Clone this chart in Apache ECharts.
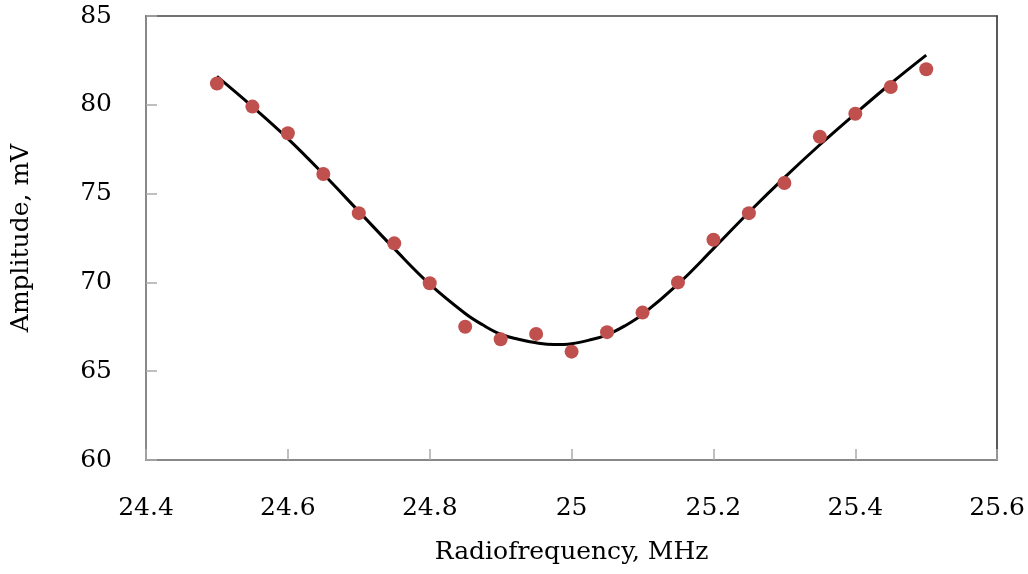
<!DOCTYPE html>
<html>
<head>
<meta charset="utf-8">
<script src="https://cdn.jsdelivr.net/npm/echarts@6/dist/echarts.min.js"></script>
<style>
  html, body { margin: 0; padding: 0; background: #ffffff; }
  #chart { width: 1028px; height: 574px; }
</style>
</head>
<body>
<div id="chart"></div>
<script>
// Measured amplitude at each radiofrequency
const freqMHz = [24.5, 24.55, 24.6, 24.65, 24.7, 24.75, 24.8, 24.85, 24.9, 24.95, 25.0,
                 25.05, 25.1, 25.15, 25.2, 25.25, 25.3, 25.35, 25.4, 25.45, 25.5];
const amplitudeMV = [81.2, 79.9, 78.4, 76.1, 73.9, 72.2, 69.95, 67.5, 66.8, 67.1, 66.1,
                     67.2, 68.3, 70.0, 72.4, 73.9, 75.6, 78.2, 79.5, 81.0, 82.0];

// Fitted resonance curve
const fitFreq = [24.5, 24.55, 24.6, 24.65, 24.7, 24.75, 24.8, 24.85, 24.875, 24.9, 24.925,
                 24.95, 24.975, 25.0, 25.025, 25.05, 25.075, 25.1, 25.15, 25.2, 25.25,
                 25.3, 25.35, 25.4, 25.45, 25.5];
const fitAmp = [81.6, 79.9, 78.1, 76.1, 74.0, 71.9, 69.9, 68.25, 67.6, 67.08, 66.8,
                66.6, 66.5, 66.55, 66.75, 67.05, 67.55, 68.2, 69.9, 71.9, 73.95,
                75.9, 77.75, 79.5, 81.2, 82.8];

// Axis ranges and tick steps
const xRange = [24.4, 25.6], xStep = 0.2;
const yRange = [60, 85], yStep = 5;

const FONT = 'DejaVu Serif';
const textStyle = { fontFamily: FONT, fontSize: 25, color: '#000' };

const chart = echarts.init(document.getElementById('chart'), null, { renderer: 'canvas' });

chart.setOption({
  backgroundColor: '#ffffff',
  animation: false,
  grid: { left: 146, right: 29, top: 16, bottom: 114 },
  xAxis: [
    {
      type: 'value', min: xRange[0], max: xRange[1], interval: xStep,
      name: 'Radiofrequency, MHz', nameLocation: 'middle', nameGap: 80,
      nameTextStyle: textStyle,
      axisLine: { show: true, onZero: false, lineStyle: { color: '#888', width: 2 } },
      axisTick: { show: true, inside: true, length: 11, lineStyle: { color: '#aaa', width: 1.5 } },
      axisLabel: Object.assign({ margin: 36 }, textStyle, {
        formatter: v => String(Math.round(v * 10) / 10)
      }),
      splitLine: { show: false }
    },
    {
      type: 'value', position: 'top', min: xRange[0], max: xRange[1],
      axisLine: { show: true, onZero: false, lineStyle: { color: '#444', width: 1.5 } },
      axisTick: { show: false }, axisLabel: { show: false }, splitLine: { show: false }
    }
  ],
  yAxis: [
    {
      type: 'value', min: yRange[0], max: yRange[1], interval: yStep,
      name: 'Amplitude, mV', nameLocation: 'middle', nameGap: 112, nameRotate: 90,
      nameTextStyle: textStyle,
      axisLine: { show: true, onZero: false, lineStyle: { color: '#888', width: 2 } },
      axisTick: { show: true, inside: true, length: 11, lineStyle: { color: '#aaa', width: 1.5 } },
      axisLabel: Object.assign({ margin: 34 }, textStyle),
      splitLine: { show: false }
    },
    {
      type: 'value', position: 'right', min: yRange[0], max: yRange[1],
      axisLine: { show: true, onZero: false, lineStyle: { color: '#222', width: 1.5 } },
      axisTick: { show: false }, axisLabel: { show: false }, splitLine: { show: false }
    }
  ],
  series: [
    {
      name: 'fit', type: 'line', smooth: 0.4, symbol: 'none',
      data: fitFreq.map((f, i) => [f, fitAmp[i]]),
      lineStyle: { color: '#000', width: 3 },
      z: 2
    },
    {
      name: 'measured', type: 'scatter', symbol: 'circle', symbolSize: 14,
      data: freqMHz.map((f, i) => [f, amplitudeMV[i]]),
      itemStyle: { color: '#c0504d', opacity: 1 },
      z: 3
    }
  ]
});
</script>
</body>
</html>
